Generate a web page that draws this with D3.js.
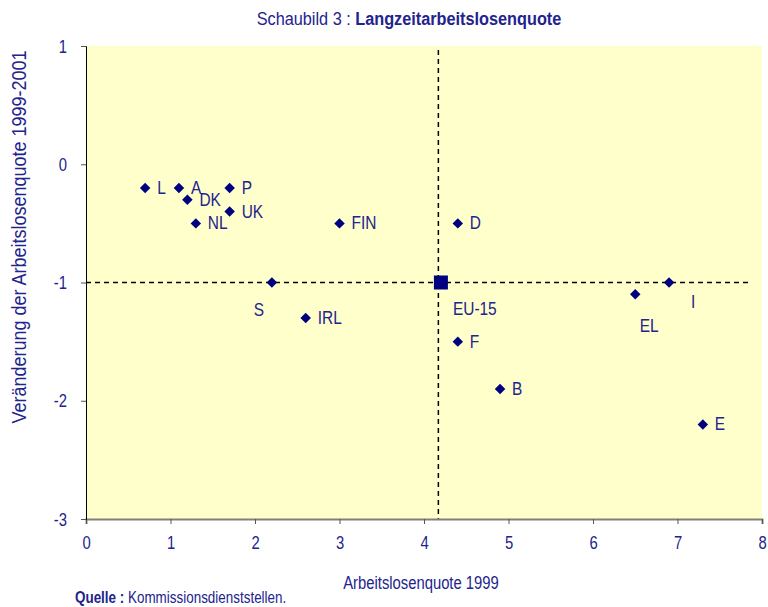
<!DOCTYPE html>
<html>
<head>
<meta charset="utf-8">
<script src="https://cdn.jsdelivr.net/npm/d3@7"></script>
<style>
  body { margin: 0; background: #fff; }
  svg text { font-family: "Liberation Sans Narrow", "Arial Narrow", "Liberation Sans", Arial, sans-serif; fill: #23238e; }
</style>
</head>
<body>
<div id="chart"></div>
<script>
// Countries, unemployment rate 1999 and change 1999-2001
const countries = ["L", "A", "DK", "P", "UK", "NL", "FIN", "D", "S", "IRL", "EL", "I", "F", "B", "E"];
const rate1999 = [0.7, 1.1, 1.2, 1.7, 1.7, 1.3, 3.0, 4.4, 2.2, 2.6, 6.5, 6.9, 4.4, 4.9, 7.3];
const change = [-0.2, -0.2, -0.3, -0.2, -0.4, -0.5, -0.5, -0.5, -1.0, -1.3, -1.1, -1.0, -1.5, -1.9, -2.2];
// where each label sits relative to its point
const labelSide = ["right", "right", "right", "right", "right", "right", "right", "right",
                   "belowLeft", "right", "below", "belowRight", "right", "right", "right"];

const euLabel = "EU-15";
const euPoint = [4.2, -1.0];
const refX = 4.17, refY = -1.0, refXEnd = 7.85;

const xTicks = [0, 1, 2, 3, 4, 5, 6, 7, 8];
const yTicks = [1, 0, -1, -2, -3];

const width = 768, height = 607;
const margin = { top: 46, right: 6, bottom: 88, left: 86 };

// no narrow font installed, so squeeze the text horizontally
function narrow(sel, sx) {
    sel.each(function() {
        const t = d3.select(this);
        const tx = +t.attr("x") || 0, ty = +t.attr("y") || 0;
        t.attr("x", 0).attr("y", 0)
         .attr("transform", `translate(${tx},${ty}) scale(${sx},1)`);
    });
}

const svg = d3.select("#chart").append("svg")
    .attr("width", width)
    .attr("height", height);

const x = d3.scaleLinear().domain([0, 8]).range([margin.left, width - margin.right]);
const y = d3.scaleLinear().domain([-3, 1]).range([height - margin.bottom, margin.top]);

// plot background
svg.append("rect")
    .attr("x", x(0)).attr("y", y(1))
    .attr("width", x(8) - x(0)).attr("height", y(-3) - y(1))
    .attr("fill", "#ffffcc");

// reference lines
svg.append("line")
    .attr("x1", x(refX)).attr("x2", x(refX))
    .attr("y1", y(1) + 4).attr("y2", y(-3))
    .attr("stroke", "#000").attr("stroke-width", 1.5).attr("stroke-dasharray", "5,4");
svg.append("line")
    .attr("x1", x(0)).attr("x2", x(refXEnd))
    .attr("y1", y(refY)).attr("y2", y(refY))
    .attr("stroke", "#000").attr("stroke-width", 1.5).attr("stroke-dasharray", "5,4");

// axes
const xAxis = svg.append("g")
    .attr("transform", `translate(0,${y(-3)})`)
    .call(d3.axisBottom(x).tickValues(xTicks).tickSize(5).tickPadding(18).tickFormat(d => String(d)));
xAxis.select(".domain").attr("stroke", "#808080").attr("stroke-width", 2);
xAxis.selectAll(".tick line").attr("stroke", "#555");
xAxis.selectAll(".tick text").attr("font-size", 19).attr("fill", "#23238e").attr("dy", "0.38em").call(narrow, 0.78);

const yAxis = svg.append("g")
    .attr("transform", `translate(${x(0)},0)`)
    .call(d3.axisLeft(y).tickValues(yTicks).tickSize(5).tickPadding(14).tickFormat(d => String(d)));
yAxis.select(".domain").attr("stroke", "#000").attr("stroke-width", 1);
yAxis.selectAll(".tick line").attr("stroke", "#555");
yAxis.selectAll(".tick text").attr("font-size", 19).attr("fill", "#23238e").call(narrow, 0.78);

// points
const data = countries.map((c, i) => ({ name: c, x: rate1999[i], y: change[i], side: labelSide[i] }));
const diamond = d3.symbol().type(d3.symbolDiamond2).size(70);

svg.append("g").selectAll("path")
    .data(data).join("path")
    .attr("d", diamond)
    .attr("transform", d => `translate(${x(d.x)},${y(d.y)})`)
    .attr("fill", "#000080");

const offsets = {
    right: [12, 6, "start"],
    belowLeft: [-13, 33, "middle"],
    below: [14, 38, "middle"],
    belowRight: [24, 25, "middle"]
};

svg.append("g").selectAll("text")
    .data(data).join("text")
    .attr("x", d => x(d.x) + offsets[d.side][0])
    .attr("y", d => y(d.y) + offsets[d.side][1])
    .attr("text-anchor", d => offsets[d.side][2])
    .attr("font-size", 18)
    .text(d => d.name)
    .call(narrow, 0.86);

// EU-15 average
svg.append("rect")
    .attr("x", x(euPoint[0]) - 7).attr("y", y(euPoint[1]) - 7)
    .attr("width", 14).attr("height", 14)
    .attr("fill", "#000080");
svg.append("text")
    .attr("x", x(euPoint[0]) + 12).attr("y", y(euPoint[1]) + 32)
    .attr("font-size", 18)
    .text(euLabel)
    .call(narrow, 0.86);

// titles
const title = svg.append("text")
    .attr("x", 409).attr("y", 25)
    .attr("text-anchor", "middle")
    .attr("font-size", 18.5);
title.append("tspan").text("Schaubild 3 : ");
title.append("tspan").attr("font-weight", "bold").text("Langzeitarbeitslosenquote");
title.call(narrow, 0.88);

svg.append("text")
    .attr("x", 421).attr("y", 589)
    .attr("text-anchor", "middle")
    .attr("font-size", 19)
    .text("Arbeitslosenquote 1999")
    .call(narrow, 0.78);

svg.append("text")
    .attr("transform", `translate(26,237) rotate(-90) scale(0.9,1)`)
    .attr("text-anchor", "middle")
    .attr("font-size", 20)
    .text("Veränderung der Arbeitslosenquote 1999-2001");

const source = svg.append("text")
    .attr("x", 75).attr("y", 603)
    .attr("font-size", 16);
source.append("tspan").attr("font-weight", "bold").text("Quelle : ");
source.append("tspan").text("Kommissionsdienststellen.");
source.call(narrow, 0.84);
</script>
</body>
</html>
